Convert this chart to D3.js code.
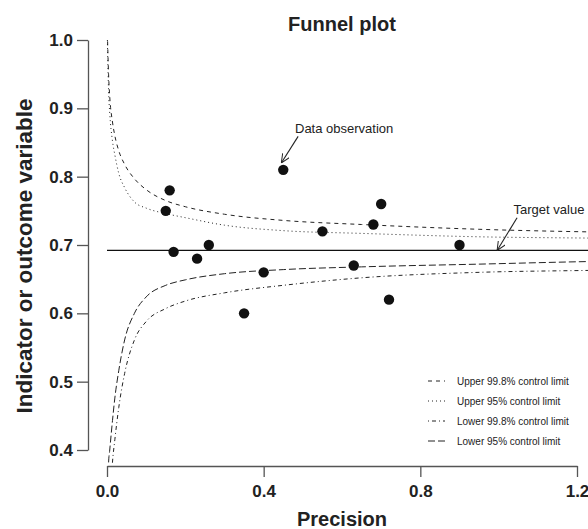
<!DOCTYPE html>
<html>
<head>
<meta charset="utf-8">
<script src="https://cdn.jsdelivr.net/npm/d3@7"></script>
<style>
  body { margin: 0; background: #fff; }
  svg { font-family: "Liberation Sans", Arial, Helvetica, sans-serif; }
  .axis path, .axis line { stroke: #555; stroke-width: 1.3; }
  .axis text { font-size: 17px; font-weight: bold; fill: #222; }
  .limit { fill: none; stroke: #222; stroke-width: 1; }
</style>
</head>
<body>
<div id="chart"></div>
<script>
var width = 588, height = 529;

// observations
var precision = [0.15, 0.16, 0.17, 0.23, 0.26, 0.35, 0.40, 0.45, 0.55, 0.63, 0.68, 0.70, 0.72, 0.90];
var outcome   = [0.75, 0.78, 0.69, 0.68, 0.70, 0.60, 0.66, 0.81, 0.72, 0.67, 0.73, 0.76, 0.62, 0.70];
var target = 0.692;

// control limits
var limitPrecision = [0.001, 0.004, 0.007, 0.014, 0.02, 0.03, 0.045, 0.07, 0.1, 0.15, 0.2, 0.3, 0.45, 0.65, 0.95, 1.25, 1.55];
var upper998 = [1.01, 0.950, 0.917, 0.880, 0.860, 0.838, 0.818, 0.797, 0.781, 0.765, 0.756, 0.745, 0.736, 0.730, 0.723, 0.719, 0.717];
var upper95  = [1.00, 0.925, 0.893, 0.852, 0.832, 0.805, 0.784, 0.763, 0.754, 0.746, 0.740, 0.729, 0.721, 0.717, 0.712, 0.710, 0.708];
var lower998 = [0.15, 0.260, 0.310, 0.382, 0.415, 0.462, 0.512, 0.561, 0.588, 0.607, 0.618, 0.630, 0.641, 0.652, 0.660, 0.663, 0.666];
var lower95  = [0.25, 0.381, 0.400, 0.443, 0.476, 0.516, 0.561, 0.600, 0.624, 0.641, 0.649, 0.658, 0.664, 0.668, 0.672, 0.676, 0.678];

var limitNames = ["Upper 99.8% control limit", "Upper 95% control limit",
  "Lower 99.8% control limit", "Lower 95% control limit"];
var limitDashes = ["4,4", "1,3", "1,3,4,3", "7,3"];

var xTicks = [0, 0.4, 0.8, 1.2];
var yTicks = [0.4, 0.5, 0.6, 0.7, 0.8, 0.9, 1.0];

// annotations
var noteLabels = ["Data observation", "Target value"];
var noteX = [0.48, 1.038], noteY = [0.87, 0.752];
var arrowFromX = [0.488, 1.047], arrowFromY = [0.859, 0.740];
var arrowToX = [0.445, 0.996], arrowToY = [0.820, 0.692];

var x = d3.scaleLinear().domain([0, 1.2]).range([107, 577]);
var y = d3.scaleLinear().domain([0.4, 1.0]).range([450, 40]);
var axisX = 88, axisY = 466;

var svg = d3.select("#chart").append("svg")
  .attr("width", width)
  .attr("height", height);

svg.append("defs").append("clipPath")
    .attr("id", "plot")
  .append("rect")
    .attr("x", axisX)
    .attr("y", y(1.0) - 1)
    .attr("width", width - axisX)
    .attr("height", axisY - 3 - y(1.0) + 1);

svg.select("defs").append("marker")
    .attr("id", "head")
    .attr("viewBox", "0 0 10 10")
    .attr("refX", 10)
    .attr("refY", 5)
    .attr("markerWidth", 9)
    .attr("markerHeight", 9)
    .attr("markerUnits", "userSpaceOnUse")
    .attr("orient", "auto")
  .append("path")
    .attr("d", "M0,0.5L10,5L0,9.5")
    .attr("fill", "none")
    .attr("stroke", "#222")
    .attr("stroke-width", 1.1);

// axes
svg.append("g")
    .attr("class", "axis")
    .attr("transform", "translate(0," + axisY + ")")
    .call(d3.axisBottom(x).tickValues(xTicks).tickFormat(d3.format(".1f"))
      .tickSize(11).tickSizeOuter(0).tickPadding(8));

svg.append("g")
    .attr("class", "axis")
    .attr("transform", "translate(" + axisX + ",0)")
    .call(d3.axisLeft(y).tickValues(yTicks).tickFormat(d3.format(".1f"))
      .tickSize(11).tickSizeOuter(0).tickPadding(4));

var plot = svg.append("g").attr("clip-path", "url(#plot)");

// target line
plot.append("line")
  .attr("x1", x(0))
  .attr("x2", x(d3.max(limitPrecision)))
  .attr("y1", y(target))
  .attr("y2", y(target))
  .attr("stroke", "#111")
  .attr("stroke-width", 1.2);

var line = d3.line()
  .x(function(d) { return x(d[0]); })
  .y(function(d) { return y(d[1]); })
  .curve(d3.curveMonotoneX);

[upper998, upper95, lower998, lower95].forEach(function(vals, i) {
  plot.append("path")
    .datum(limitPrecision.map(function(p, j) { return [p, vals[j]]; }))
    .attr("class", "limit")
    .attr("stroke-dasharray", limitDashes[i])
    .attr("d", line);
});

svg.selectAll(".dot")
    .data(precision.map(function(p, i) { return [p, outcome[i]]; }))
  .enter().append("circle")
    .attr("class", "dot")
    .attr("cx", function(d) { return x(d[0]); })
    .attr("cy", function(d) { return y(d[1]); })
    .attr("r", 5.2)
    .attr("fill", "#111");

// arrows + notes
noteLabels.forEach(function(label, i) {
  svg.append("line")
    .attr("x1", x(arrowFromX[i]))
    .attr("y1", y(arrowFromY[i]))
    .attr("x2", x(arrowToX[i]))
    .attr("y2", y(arrowToY[i]))
    .attr("stroke", "#222")
    .attr("stroke-width", 1.1)
    .attr("marker-end", "url(#head)");

  svg.append("text")
    .attr("x", x(noteX[i]))
    .attr("y", y(noteY[i]))
    .attr("dy", "0.35em")
    .style("font-size", "13px")
    .style("fill", "#222")
    .text(label);
});

// legend
var legend = svg.append("g")
    .attr("transform", "translate(428,381)")
  .selectAll("g")
    .data(limitNames)
  .enter().append("g")
    .attr("transform", function(d, i) { return "translate(0," + (i * 20) + ")"; });

legend.append("line")
  .attr("x1", 0)
  .attr("x2", 17)
  .attr("stroke", "#222")
  .attr("stroke-dasharray", function(d, i) { return limitDashes[i]; });

legend.append("text")
  .attr("x", 29)
  .attr("dy", "0.35em")
  .style("font-size", "10px")
  .style("fill", "#222")
  .text(function(d) { return d; });

// titles
svg.append("text")
  .attr("x", (x(0) + x(1.2)) / 2)
  .attr("y", 31)
  .attr("text-anchor", "middle")
  .style("font-size", "20px")
  .style("font-weight", "bold")
  .style("fill", "#222")
  .text("Funnel plot");

svg.append("text")
  .attr("x", (x(0) + x(1.2)) / 2)
  .attr("y", 526)
  .attr("text-anchor", "middle")
  .style("font-size", "20px")
  .style("font-weight", "bold")
  .style("fill", "#222")
  .text("Precision");

svg.append("text")
  .attr("transform", "translate(32,256) rotate(-90)")
  .attr("text-anchor", "middle")
  .style("font-size", "22.5px")
  .style("font-weight", "bold")
  .style("fill", "#222")
  .text("Indicator or outcome variable");
</script>
</body>
</html>
